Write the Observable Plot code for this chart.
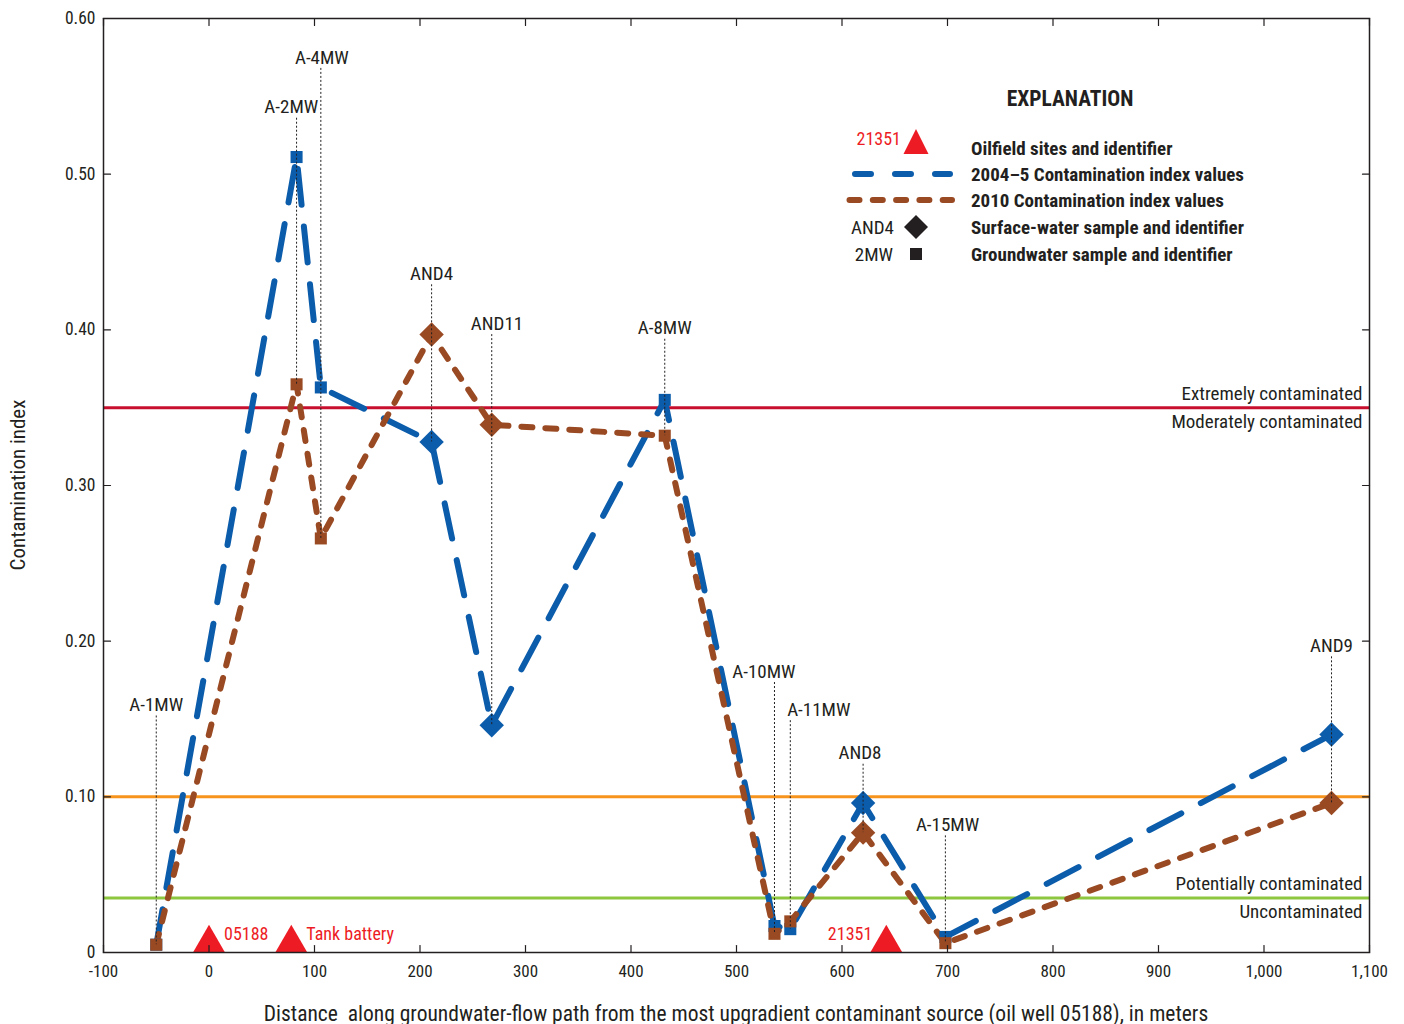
<!DOCTYPE html>
<html><head><meta charset="utf-8">
<script src="https://cdn.jsdelivr.net/npm/d3@7"></script>
<script src="https://cdn.jsdelivr.net/npm/@observablehq/plot@0.6"></script>
<style>
body{margin:0;background:#fff;}
#chart{position:relative;width:1404px;height:1024px;}
</style></head><body><div id="chart"></div>
<script>
// ---- data ----
const sites       = ["A-1MW","A-2MW","A-4MW","AND4","AND11","A-8MW","A-10MW","A-11MW","AND8","A-15MW","AND9"];
const sampleType  = ["gw","gw","gw","sw","sw","gw","gw","gw","sw","gw","sw"];
const distance    = [-50, 83, 106, 211, 268, 432, 536, 551, 620, 698, 1064];
const ci2004      = [0.005,0.511,0.363,0.328,0.146,0.355,0.017,0.015,0.096,0.010,0.140];
const ci2010      = [0.005,0.365,0.266,0.397,0.339,0.332,0.012,0.020,0.077,0.006,0.096];
const labelX      = [-50, 78, 107, 211, 273, 432, 526, 578, 617, 700, 1064];
const labelY      = [0.159,0.543,0.575,0.436,0.404,0.401,0.1805,0.156,0.128,0.082,0.197];
const oilfieldSites    = ["05188","Tank battery","21351"];
const oilfieldDistance = [0, 78, 642];
const oilfieldLabelSide = ["right","right","left"];
const thresholdValues  = [0.35, 0.10, 0.035];
const thresholdNames   = ["extreme","moderate","potential"];
const thresholdAbove   = ["Extremely contaminated", "", "Potentially contaminated"];
const thresholdBelow   = ["Moderately contaminated", "", "Uncontaminated"];
const xTicks = [-100,0,100,200,300,400,500,600,700,800,900,1000,1100];
const yTicks = [0,0.1,0.2,0.3,0.4,0.5,0.6];

// ---- font detection ----
function hasFont(f){
  const c=document.createElement("canvas").getContext("2d");
  const s="mmmmmmmmmmlliWWW0123abc";
  c.font="40px monospace"; const w0=c.measureText(s).width;
  c.font=`40px "${f}", monospace`; const w1=c.measureText(s).width;
  c.font="40px serif"; const w2=c.measureText(s).width;
  c.font=`40px "${f}", serif`; const w3=c.measureText(s).width;
  return w0!==w1 || w2!==w3;
}
const candidates=["Liberation Sans Narrow","Roboto Condensed","DejaVu Sans Condensed","Open Sans Condensed","Noto Sans Condensed","Roboto"];
const chosen = candidates.find(hasFont) || "sans-serif";
const FONT = `"${chosen}", "Roboto", sans-serif`;

const BLUE="#0B5CAB", BROWN="#9A4A23", INK="#231F20", RED="#ED1C24";
const rows = sites.map((s,i)=>({site:s,type:sampleType[i],x:distance[i],v04:ci2004[i],v10:ci2010[i],
  lx:labelX[i],ly:labelY[i],low:Math.min(ci2004[i],ci2010[i])}));
const oil = oilfieldSites.map((s,i)=>({name:s,x:oilfieldDistance[i],side:oilfieldLabelSide[i]}));
const thr = thresholdValues.map((v,i)=>({v,name:thresholdNames[i],above:thresholdAbove[i],below:thresholdBelow[i]}));
const tickShape={draw(ctx,l){ctx.moveTo(0,0);ctx.lineTo(0,-l);}};

const chart = Plot.plot({
  width:1404, height:1024,
  marginLeft:103, marginRight:35, marginTop:18, marginBottom:72,
  x:{domain:[-100,1100]},
  y:{domain:[0,0.6]},
  style:{fontFamily:FONT,fontSize:"16px",color:INK,background:"white",overflow:"visible"},
  marks:[
    Plot.ruleY(thr,{y:"v",stroke:d=>d.name==="extreme"?"#C8102E":d.name==="moderate"?"#F7941D":"#8DC63F",strokeWidth:3}),
    Plot.text(thr.filter(d=>d.above),{x:1100,y:"v",text:"above",textAnchor:"end",dx:-7,dy:-14,fontSize:19,fill:INK}),
    Plot.text(thr.filter(d=>d.below),{x:1100,y:"v",text:"below",textAnchor:"end",dx:-7,dy:14,fontSize:19,fill:INK}),
    Plot.line(rows,{x:"x",y:"v04",stroke:BLUE,strokeWidth:6,strokeDasharray:"36,22",strokeLinecap:"round",strokeLinejoin:"round"}),
    Plot.line(rows,{x:"x",y:"v10",stroke:BROWN,strokeWidth:6,strokeDasharray:"11,13",strokeLinecap:"round",strokeLinejoin:"round"}),
    Plot.dot(rows.filter(d=>d.type==="gw"),{x:"x",y:"v04",symbol:"square",r:6.8,fill:BLUE}),
    Plot.dot(rows.filter(d=>d.type==="sw"),{x:"x",y:"v04",symbol:"diamond2",r:11,fill:BLUE}),
    Plot.dot(rows.filter(d=>d.type==="gw"),{x:"x",y:"v10",symbol:"square",r:6.8,fill:BROWN}),
    Plot.dot(rows.filter(d=>d.type==="sw"),{x:"x",y:"v10",symbol:"diamond2",r:11,fill:BROWN}),
    Plot.ruleX(rows,{x:"x",y1:"ly",y2:"low",insetTop:11,stroke:INK,strokeWidth:1,strokeDasharray:"2,2"}),
    Plot.text(rows,{x:"lx",y:"ly",text:"site",fontSize:19,fill:INK}),
    Plot.dot(oil,{x:"x",y:0,symbol:"triangle",r:11.8,fill:RED,dy:-9.5}),
    Plot.text(oil.filter(d=>d.side==="right"),{x:"x",y:0,text:"name",textAnchor:"start",dx:15,dy:-18,fontSize:18,fill:RED}),
    Plot.text(oil.filter(d=>d.side==="left"),{x:"x",y:0,text:"name",textAnchor:"end",dx:-14,dy:-18,fontSize:18,fill:RED}),
    // inward ticks on all four sides
    Plot.vector(xTicks,{x:d=>d,y:0,length:7,rotate:0,anchor:"start",shape:tickShape,stroke:INK,strokeWidth:1.2}),
    Plot.vector(xTicks,{x:d=>d,y:0.6,length:7,rotate:180,anchor:"start",shape:tickShape,stroke:INK,strokeWidth:1.2}),
    Plot.vector(yTicks,{x:-100,y:d=>d,length:7,rotate:90,anchor:"start",shape:tickShape,stroke:INK,strokeWidth:1.2}),
    Plot.vector(yTicks,{x:1100,y:d=>d,length:7,rotate:-90,anchor:"start",shape:tickShape,stroke:INK,strokeWidth:1.2}),
    Plot.axisX({ticks:xTicks,tickSize:0,tickPadding:12,fontSize:17,label:null,
      tickFormat:d=>d<0?"-"+Math.abs(d):d3.format(",")(d)}),
    Plot.axisY({ticks:yTicks,tickSize:0,tickPadding:8,fontSize:17.5,label:null,
      tickFormat:d=>d===0?"0":d.toFixed(2)}),
    Plot.frame({stroke:INK,strokeWidth:1.5})
  ]
});
document.getElementById("chart").appendChild(chart);

// axis titles and explanation (legend)
const svg=d3.select(chart);
svg.append("text").attr("transform","translate(18,485) rotate(-90)").attr("text-anchor","middle")
  .attr("dominant-baseline","central").attr("font-family",FONT).attr("font-size",21).attr("fill",INK)
  .text("Contamination index");
svg.append("text").attr("x",736).attr("y",1013).attr("text-anchor","middle")
  .attr("dominant-baseline","central").attr("font-family",FONT).attr("font-size",21.5).attr("fill",INK)
  .text("Distance\u00a0 along groundwater-flow path from the most upgradient contaminant source (oil well 05188), in meters");

const lg=svg.append("g").attr("font-family",FONT).attr("fill",INK);
lg.append("text").attr("x",1070).attr("y",98).attr("text-anchor","middle").attr("dominant-baseline","central")
  .attr("font-weight","bold").attr("font-size",21.5).text("EXPLANATION");
const legendRows=["Oilfield sites and identifier","2004\u20135 Contamination index values","2010 Contamination index values","Surface-water sample and identifier","Groundwater sample and identifier"];
const legendY=[148,174,200,227,254];
legendRows.forEach((t,i)=>lg.append("text").attr("x",971).attr("y",legendY[i]).attr("text-anchor","start")
  .attr("dominant-baseline","central").attr("font-weight","bold").attr("font-size",19).text(t));
lg.append("text").attr("x",901).attr("y",138).attr("text-anchor","end").attr("dominant-baseline","central")
  .attr("font-size",18).attr("fill",RED).text("21351");
lg.append("path").attr("d","M916,129L928.5,154L903.5,154Z").attr("fill",RED);
lg.append("line").attr("x1",855).attr("x2",950).attr("y1",174).attr("y2",174).attr("stroke",BLUE)
  .attr("stroke-width",6).attr("stroke-linecap","round").attr("stroke-dasharray","16,24");
lg.append("line").attr("x1",849.5).attr("x2",952).attr("y1",200).attr("y2",200).attr("stroke",BROWN)
  .attr("stroke-width",6).attr("stroke-linecap","round").attr("stroke-dasharray","10,13.3");
lg.append("text").attr("x",894).attr("y",227).attr("text-anchor","end").attr("dominant-baseline","central")
  .attr("font-size",19).text("AND4");
lg.append("path").attr("d","M916,215L928,227L916,239L904,227Z").attr("fill",INK);
lg.append("text").attr("x",893).attr("y",254).attr("text-anchor","end").attr("dominant-baseline","central")
  .attr("font-size",19).text("2MW");
lg.append("rect").attr("x",910).attr("y",248).attr("width",12).attr("height",12).attr("fill",INK);
</script></body></html>
